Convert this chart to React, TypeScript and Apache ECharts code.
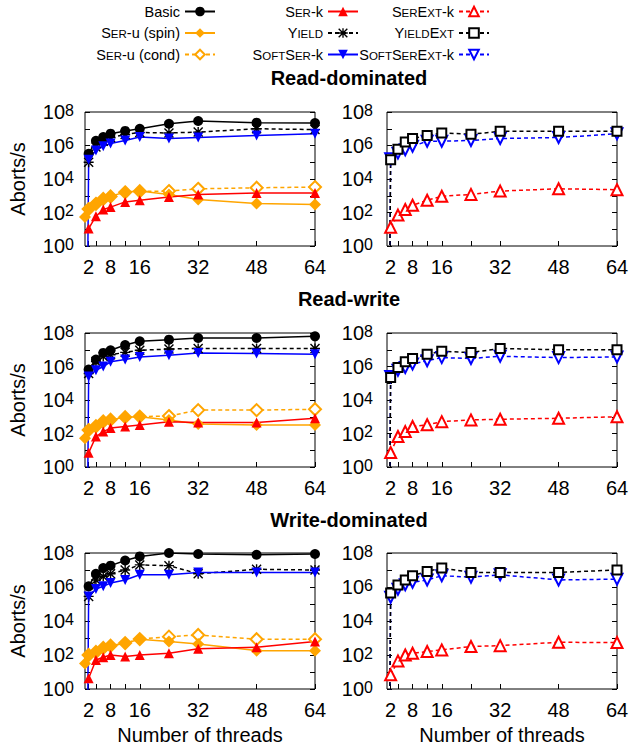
import React, { useEffect, useRef } from "react";
import * as echarts from "echarts";

// ---------- data ----------
const threads = [1, 2, 4, 6, 8, 12, 16, 24, 32, 48, 64];
const xTickLabels = [2, 8, 16, 32, 48, 64];
const xTickMarks = [2, 4, 8, 12, 16, 24, 32, 48, 64];
const rowTitles = ["Read-dominated", "Read-write", "Write-dominated"];

// Read-dominated
const rdBasic = [null, 3.2e5, 1.9e6, 3.2e6, 5.1e6, 7.4e6, 1.0e7, 2.0e7, 2.9e7, 2.3e7, 2.2e7];
const rdSpin = [54, 160, 340, 680, 930, 1650, 1900, 1200, 600, 340, 300];
const rdCond = [null, 160, 330, 650, 900, 1600, 1850, 1900, 2600, 3000, 3300];
const rdSerK = [null, 11, 60, 150, 210, 430, 540, 850, 1200, 1450, 1450];
const rdYield = [null, 1.0e5, 8e5, 1.8e6, 3e6, 4.5e6, 6e6, 5.6e6, 6.3e6, 1e7, 8.9e6];
const rdSoftSerK = [0, 1.4e5, 5e5, 9e5, 1.3e6, 2e6, 3.2e6, 2.6e6, 3e6, 4e6, 5e6];
const rdSerExtK = [null, 13, 70, 150, 270, 540, 930, 1200, 1900, 2600, 2300];
const rdYieldExt = [0, 1.4e5, 6e5, 1.6e6, 2.6e6, 4e6, 5.6e6, 4.7e6, 7e6, 7e6, 7e6];
const rdSoftSerExtK = [0, 1.6e5, 3.5e5, 5.6e5, 9e5, 1.8e6, 1.8e6, 2e6, 2.6e6, 3e6, 5e6];

// Read-write
const rwBasic = [null, 6.6e5, 2.6e6, 6.5e6, 9.3e6, 1.9e7, 3.2e7, 4e7, 5e7, 5e7, 6.3e7];
const rwSpin = [52, 150, 260, 510, 650, 930, 1000, 650, 370, 320, 320];
const rwCond = [null, 160, 270, 520, 660, 940, 1020, 1100, 2500, 2500, 2800];
const rwSerK = [null, 7, 66, 130, 210, 260, 320, 510, 450, 450, 810];
const rwYield = [null, 3.8e5, 2e6, 4e6, 5e6, 7e6, 9.3e6, 1.1e7, 1.2e7, 1.2e7, 1.2e7];
const rwSoftSerK = [0, 2.5e5, 6e5, 1e6, 1.9e6, 2.6e6, 3.7e6, 4.7e6, 6.5e6, 5.9e6, 5.4e6];
const rwSerExtK = [null, 7.4, 66, 130, 260, 330, 510, 650, 710, 810, 1000];
const rwYieldExt = [0, 2.2e5, 8.7e5, 1.9e6, 3e6, 5.4e6, 8.1e6, 6.8e6, 1.2e7, 1e7, 1e7];
const rwSoftSerExtK = [0, 2.5e5, 6e5, 8.7e5, 1.4e6, 2.2e6, 3.4e6, 3e6, 4.1e6, 3.4e6, 3.7e6];

// Write-dominated
const wdBasic = [null, 1.1e6, 6e6, 1.3e7, 1.8e7, 3.6e7, 6.3e7, 1e8, 8.7e7, 7.9e7, 8.7e7];
const wdSpin = [32, 100, 140, 250, 340, 490, 850, 620, 450, 180, 175];
const wdCond = [null, 100, 150, 260, 350, 500, 860, 1200, 1500, 850, 850];
const wdSerK = [null, 4.3, 51, 74, 100, 81, 100, 126, 230, 290, 620];
const wdYield = [null, 2.8e5, 2.6e6, 4.2e6, 6e6, 1e7, 2e7, 1.8e7, 6e6, 1.1e7, 1e7];
const wdSoftSerK = [0, 2.8e5, 7.5e5, 1.1e6, 1.7e6, 2.6e6, 5.2e6, 5.2e6, 7.2e6, 7.2e6, 7.2e6];
const wdSerExtK = [null, 6.8, 45, 100, 126, 160, 200, 316, 355, 560, 540];
const wdYieldExt = [0, 4.4e5, 1.3e6, 2.6e6, 4.6e6, 8.3e6, 1.3e7, 7.2e6, 7.2e6, 7.2e6, 1e7];
const wdSoftSerExtK = [0, 2.5e5, 7.4e5, 1.35e6, 1.9e6, 2.6e6, 4.6e6, 3.8e6, 5.2e6, 2.6e6, 2.9e6];

// ---------- styles / layout ----------
const FONT = '"Liberation Sans", Arial, Helvetica, sans-serif';
const NEAR_ZERO = 1e-20; // zero aborts shown as a drop to the bottom of the log axis
const ASTERISK =
  "path://M0,4.3L10,4.3L10,5.7L0,5.7Z M4.3,0L5.7,0L5.7,10L4.3,10Z M0,1L1,0L10,9L9,10Z M9,0L10,1L1,10L0,9Z";

const BLACK = "#000000";
const ORANGE = "#ffa500";
const RED = "#ff0000";
const BLUE = "#0000ff";

type St = { name: string; color: string; dashed: boolean; symbol: string; size: number; rotate?: number };

const leftStyles: St[] = [
  { name: "Basic", color: BLACK, dashed: false, symbol: "circle", size: 10 },
  { name: "Ser-u (cond)", color: ORANGE, dashed: true, symbol: "emptyDiamond", size: 12 },
  { name: "Ser-u (spin)", color: ORANGE, dashed: false, symbol: "diamond", size: 12 },
  { name: "Ser-k", color: RED, dashed: false, symbol: "triangle", size: 10 },
  { name: "Yield", color: BLACK, dashed: true, symbol: ASTERISK, size: 10 },
  { name: "SoftSer-k", color: BLUE, dashed: false, symbol: "triangle", size: 10, rotate: 180 },
];
const rightStyles: St[] = [
  { name: "SerExt-k", color: RED, dashed: true, symbol: "emptyTriangle", size: 11 },
  { name: "SoftSerExt-k", color: BLUE, dashed: true, symbol: "emptyTriangle", size: 11, rotate: 180 },
  { name: "YieldExt", color: BLACK, dashed: true, symbol: "emptyRect", size: 9 },
];

const rowLeft = [
  [rdBasic, rdCond, rdSpin, rdSerK, rdYield, rdSoftSerK],
  [rwBasic, rwCond, rwSpin, rwSerK, rwYield, rwSoftSerK],
  [wdBasic, wdCond, wdSpin, wdSerK, wdYield, wdSoftSerK],
];
const rowRight = [
  [rdSerExtK, rdSoftSerExtK, rdYieldExt],
  [rwSerExtK, rwSoftSerExtK, rwYieldExt],
  [wdSerExtK, wdSoftSerExtK, wdYieldExt],
];

const legendCols = [
  ["Basic", "Ser-u (spin)", "Ser-u (cond)"],
  ["Ser-k", "Yield", "SoftSer-k"],
  ["SerExt-k", "YieldExt", "SoftSerExt-k"],
];
const legendLabels: Record<string, string> = {
  Basic: "{n|Basic}",
  "Ser-u (spin)": "{n|S}{c|ER}{n|-u (spin)}",
  "Ser-u (cond)": "{n|S}{c|ER}{n|-u (cond)}",
  "Ser-k": "{n|S}{c|ER}{n|-k}",
  Yield: "{n|Y}{c|IELD}",
  "SoftSer-k": "{n|S}{c|OFT}{n|S}{c|ER}{n|-k}",
  "SerExt-k": "{n|S}{c|ER}{n|E}{c|XT}{n|-k}",
  YieldExt: "{n|Y}{c|IELD}{n|E}{c|XT}",
  "SoftSerExt-k": "{n|S}{c|OFT}{n|S}{c|ER}{n|E}{c|XT}{n|-k}",
};

const GRID_LEFTS = [85, 387];
const GRID_WIDTH = 230;
const GRID_TOPS = [112, 333, 553];
const GRID_HEIGHTS = [134, 134, 136];
const TITLE_Y = [78, 299, 520];
const LEGEND_RIGHTS = [416, 273, 142];

const toPairs = (vals: (number | null)[]) =>
  threads
    .map((t, i) => [t, vals[i]] as [number, number | null])
    .filter((d) => d[1] !== null)
    .map((d) => [d[0], d[1] === 0 ? NEAR_ZERO : (d[1] as number)]);

const yFmt = (v: number) => {
  const e = Math.round(Math.log10(v));
  return e % 2 === 0 ? `{b|10}{s|${e}}` : "";
};
const yRich = {
  b: { fontSize: 20, lineHeight: 20, fontFamily: FONT, color: BLACK },
  s: { fontSize: 16, lineHeight: 16, fontFamily: FONT, color: BLACK, verticalAlign: "top", padding: [0, 0, 10, 0] },
};

function buildOption() {
  const grid: any[] = [];
  const xAxis: any[] = [];
  const yAxis: any[] = [];
  const series: any[] = [];
  for (let r = 0; r < 3; r++) {
    for (let c = 0; c < 2; c++) {
      const p = r * 2 + c;
      grid.push({
        left: GRID_LEFTS[c],
        top: GRID_TOPS[r],
        width: GRID_WIDTH,
        height: GRID_HEIGHTS[r],
        show: true,
        borderColor: BLACK,
        borderWidth: 1,
        backgroundColor: "transparent",
      });
      xAxis.push({
        type: "value",
        gridIndex: p,
        min: 1,
        max: 64,
        axisLine: { show: false },
        splitLine: { show: false },
        axisTick: { show: true, inside: true, length: 5, customValues: xTickMarks, lineStyle: { color: BLACK, width: 1 } },
        axisLabel: { customValues: xTickLabels, fontSize: 20, color: BLACK, margin: 11, fontFamily: FONT },
        name: r === 2 ? "Number of threads" : "",
        nameLocation: "middle",
        nameGap: 36,
        nameTextStyle: { fontSize: 20, color: BLACK, fontFamily: FONT },
      });
      yAxis.push({
        type: "log",
        logBase: 10,
        gridIndex: p,
        min: 1,
        max: 1e8,
        splitNumber: 8,
        axisLine: { show: false },
        splitLine: { show: false },
        axisTick: { show: true, inside: true, length: 5, lineStyle: { color: BLACK, width: 1 } },
        axisLabel: { formatter: yFmt, rich: yRich, margin: c === 0 ? 11 : 14, color: BLACK },
        name: c === 0 ? "Aborts/s" : "",
        nameLocation: "middle",
        nameGap: 57,
        nameTextStyle: { fontSize: 20, color: BLACK, fontFamily: FONT },
      });
      yAxis.push({
        type: "log",
        logBase: 10,
        gridIndex: p,
        position: "right",
        min: 1,
        max: 1e8,
        splitNumber: 8,
        axisLine: { show: false },
        splitLine: { show: false },
        axisTick: { show: true, inside: true, length: 5, lineStyle: { color: BLACK, width: 1 } },
        axisLabel: { show: false },
      });
      const styles = c === 0 ? leftStyles : rightStyles;
      const vals = c === 0 ? rowLeft[r] : rowRight[r];
      styles.forEach((st, k) => {
        series.push({
          type: "line",
          name: st.name,
          xAxisIndex: p,
          yAxisIndex: 2 * p,
          data: toPairs(vals[k]),
          symbol: st.symbol,
          symbolSize: st.size,
          symbolRotate: st.rotate || 0,
          showSymbol: true,
          clip: true,
          lineStyle: { color: st.color, width: 1.5, type: st.dashed ? [4, 3] : "solid" },
          itemStyle: { color: st.color },
          emphasis: { disabled: true },
          silent: true,
        });
      });
    }
  }
  const legend = legendCols.map((names, i) => ({
    data: names,
    orient: "vertical",
    align: "right",
    right: LEGEND_RIGHTS[i],
    top: 4,
    padding: 0,
    itemGap: 6.5,
    itemWidth: 30,
    itemHeight: 12,
    selectedMode: false,
    formatter: (name: string) => legendLabels[name] || name,
    textStyle: {
      color: BLACK,
      fontFamily: FONT,
      rich: {
        n: { fontSize: 14.5, lineHeight: 16, fontFamily: FONT, color: BLACK },
        c: { fontSize: 11.5, lineHeight: 16, fontFamily: FONT, color: BLACK, padding: [2, 0, 0, 0] },
      },
    },
  }));
  const graphic = rowTitles.map((t, r) => ({
    type: "text",
    x: 349,
    y: TITLE_Y[r],
    silent: true,
    style: {
      text: t,
      fontSize: 20,
      fontWeight: "bold",
      fontFamily: FONT,
      fill: BLACK,
      align: "center",
      verticalAlign: "middle",
      textAlign: "center",
      textVerticalAlign: "middle",
    },
  }));
  return {
    animation: false,
    backgroundColor: "#ffffff",
    textStyle: { fontFamily: FONT, color: BLACK },
    grid,
    xAxis,
    yAxis,
    series,
    legend,
    graphic,
  };
}

export default function App() {
  const ref = useRef<HTMLDivElement>(null);
  useEffect(() => {
    if (!ref.current) return;
    const chart = echarts.init(ref.current, undefined, { renderer: "svg" });
    chart.setOption(buildOption() as any);
    return () => chart.dispose();
  }, []);
  return (
    <div
      ref={ref}
      style={{ position: "absolute", left: 0, top: 0, width: 632, height: 751, background: "#fff" }}
    />
  );
}
